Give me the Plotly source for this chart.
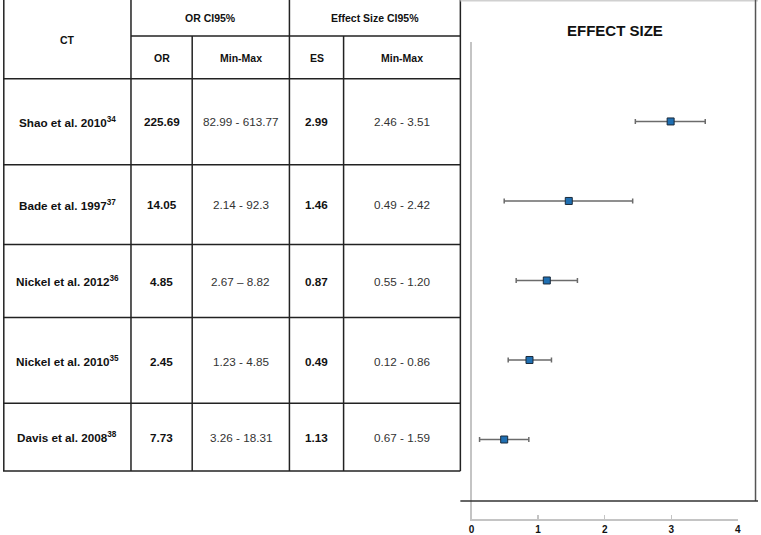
import plotly.graph_objects as go

# ---------------- data ----------------
studies = ["Shao et al. 2010", "Bade et al. 1997", "Nickel et al. 2012", "Nickel et al. 2010", "Davis et al. 2008"]
refs = ["34", "37", "36", "35", "38"]
or_values = ["225.69", "14.05", "4.85", "2.45", "7.73"]
or_ranges = ["82.99 - 613.77", "2.14 - 92.3", "2.67 \u2013 8.82", "1.23 - 4.85", "3.26 - 18.31"]
es_values = [2.99, 1.46, 0.87, 0.49, 1.13]
es_low = [2.46, 0.49, 0.55, 0.12, 0.67]
es_high = [3.51, 2.42, 1.20, 0.86, 1.59]
es_ranges = ["2.46 - 3.51", "0.49 - 2.42", "0.55 - 1.20", "0.12 - 0.86", "0.67 - 1.59"]
# order of the studies in the forest plot, top to bottom (as in the source figure)
plot_order = [0, 1, 4, 2, 3]
x_ticks = [0, 1, 2, 3, 4]

header_top = ["CT", "OR CI95%", "Effect Size CI95%"]
header_sub = ["OR", "Min-Max", "ES", "Min-Max"]
plot_title = "EFFECT SIZE"

# ---------------- layout helpers ----------------
W, H = 761, 535
def X(px):
    return px / W
def Y(py):
    return 1 - py / H

FONT = "Liberation Sans, Arial, sans-serif"
cols = [0.8, 129, 190.7, 288.7, 343.3, 461]
row_lines = [79, 165, 245, 318, 404, 472]
row_centers = [122, 205, 282, 362, 438]
col_centers = [(cols[i] + cols[i + 1]) / 2 for i in range(5)]

fig = go.Figure()

# forest plot
ys = list(range(len(plot_order)))
vals = [es_values[i] for i in plot_order]
plus = [es_high[i] - es_values[i] for i in plot_order]
minus = [es_values[i] - es_low[i] for i in plot_order]
fig.add_trace(go.Scatter(
    x=vals, y=ys, mode="markers",
    marker=dict(symbol="square", size=7, color="#1f6fb2", line=dict(color="#1b2a3a", width=1)),
    error_x=dict(type="data", symmetric=False, array=plus, arrayminus=minus,
                 color="#6b6b6b", thickness=1.5, width=2.5),
    showlegend=False, hoverinfo="skip",
))

shapes = []
def line(x0, y0, x1, y1, color="#222222", width=1.5):
    shapes.append(dict(type="line", xref="paper", yref="paper",
                       x0=X(x0), y0=Y(y0), x1=X(x1), y1=Y(y1),
                       line=dict(color=color, width=width)))

# table grid
line(cols[0], 0, cols[0], 472)
line(cols[1], 0, cols[1], 472)
line(cols[2], 36, cols[2], 472)
line(cols[3], 0, cols[3], 472)
line(cols[4], 36, cols[4], 472)
line(cols[5], 0, cols[5], 472)
line(cols[1], 36, cols[5], 36)
for ry in row_lines:
    line(0, ry, cols[5], ry)

# plot frame
line(461, 0.8, 761, 0.8, color="#d0d0d0")
line(758.5, 0, 758.5, 502, color="#555555")
line(461, 502, 761, 502, color="#333333")

annotations = []
def text(s, px, py, size=12, bold=True, color="#111111"):
    annotations.append(dict(
        text=f"<b>{s}</b>" if bold else s, x=X(px), y=Y(py),
        xref="paper", yref="paper", showarrow=False,
        xanchor="center", yanchor="middle",
        font=dict(family=FONT, size=size, color=color)))

# headers
text(header_top[0], col_centers[0], 40, size=10.5)
text(header_top[1], (cols[1] + cols[3]) / 2, 18, size=10.5)
text(header_top[2], (cols[3] + cols[5]) / 2, 18, size=10.5)
for i, h in enumerate(header_sub):
    text(h, col_centers[i + 1], 58, size=10.5)

# body
for r in range(len(studies)):
    cy = row_centers[r]
    text(f"{studies[r]}<sup>{refs[r]}</sup>", col_centers[0], cy, size=11.7)
    text(or_values[r], col_centers[1], cy, size=11.7)
    text(or_ranges[r], col_centers[2], cy, size=11.7, bold=False, color="#333333")
    text(f"{es_values[r]:.2f}", col_centers[3], cy, size=11.7)
    text(es_ranges[r], col_centers[4], cy, size=11.7, bold=False, color="#333333")

# plot title
text(plot_title, 616.7, 31, size=15)

fig.update_layout(
    width=W, height=H,
    margin=dict(l=0, r=0, t=0, b=0),
    paper_bgcolor="white", plot_bgcolor="white",
    shapes=shapes, annotations=annotations,
    xaxis=dict(domain=[X(472.3), X(740.7)], range=[0, 4],
               tickvals=x_ticks, ticktext=[str(t) for t in x_ticks],
               showline=True, linecolor="#c4c4c4", linewidth=1.5,
               ticks="inside", ticklen=4, tickcolor="#c4c4c4", tickwidth=1.5,
               showgrid=False, zeroline=False,
               tickfont=dict(family=FONT, size=10, color="#111111", weight="bold")),
    yaxis=dict(domain=[Y(520), Y(42)], range=[5, -1],
               showline=True, linecolor="#c4c4c4", linewidth=1.5,
               showticklabels=False, ticks="", showgrid=False, zeroline=False),
)

fig.write_html(
    "out.html",
    config={"displayModeBar": False, "staticPlot": True},
    post_script="document.body.style.margin='0px';document.body.style.overflow='hidden';",
)
